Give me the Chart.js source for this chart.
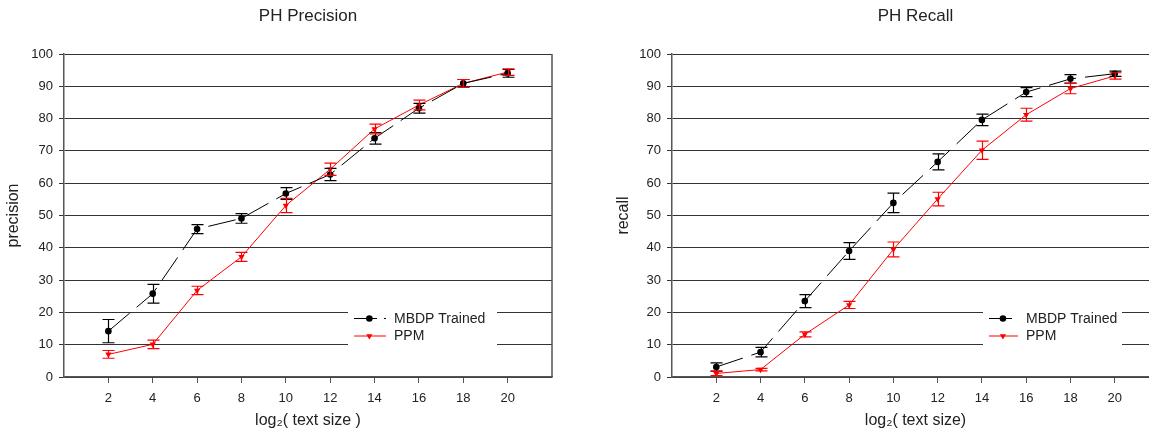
<!DOCTYPE html>
<html>
<head>
<meta charset="utf-8">
<script src="https://cdn.jsdelivr.net/npm/chart.js@4/dist/chart.umd.min.js"></script>
<style>
  html, body { margin: 0; padding: 0; background: #fff; overflow: hidden; width: 1149px; height: 430px; }
  .panel { position: absolute; top: 0; }
  #left-panel { left: 0; }
  #right-panel { left: 600px; }
</style>
</head>
<body>
<div class="panel" id="left-panel"><canvas id="chart-precision" width="600" height="430"></canvas></div>
<div class="panel" id="right-panel"><canvas id="chart-recall" width="570" height="430"></canvas></div>
<script>
// log2(text size)
const xValues = [2, 4, 6, 8, 10, 12, 14, 16, 18, 20];
const xTicks = [2, 4, 6, 8, 10, 12, 14, 16, 18, 20];
const yTicks = [0, 10, 20, 30, 40, 50, 60, 70, 80, 90, 100];

// precision (%), with error bar half-heights
const mbdpPrecision = [14.2, 25.8, 45.8, 49.1, 56.8, 62.7, 73.9, 83.2, 90.9, 94.0];
const mbdpPrecisionErr = [3.6, 2.9, 1.4, 1.5, 1.8, 1.9, 1.8, 1.5, 1.2, 1.2];
const ppmPrecision = [7.0, 10.1, 26.8, 37.2, 53.1, 64.3, 76.8, 84.2, 90.9, 94.4];
const ppmPrecisionErr = [1.2, 1.3, 1.3, 1.4, 2.2, 1.9, 1.5, 1.5, 1.2, 1.0];

// recall (%)
const mbdpRecall = [3.1, 7.7, 23.5, 39.0, 53.9, 66.6, 79.6, 88.2, 92.3, 93.9];
const mbdpRecallErr = [1.3, 1.5, 2.0, 2.6, 3.0, 2.5, 1.8, 1.4, 1.3, 0.8];
const ppmRecall = [1.1, 2.3, 13.2, 22.3, 39.5, 55.1, 70.2, 81.2, 89.3, 93.2];
const ppmRecallErr = [0.7, 0.4, 0.8, 1.1, 2.3, 2.1, 2.8, 2.0, 1.6, 1.0];

const FONT = "'Liberation Sans', Arial, sans-serif";
const TEXT = '#222';
const AXIS = '#555';

function points(ys) {
  return xValues.map((x, i) => ({ x, y: ys[i] }));
}

// vertical error bars with caps, from the dataset's errorBars array
const errorBarPlugin = {
  id: 'errorBars',
  afterDatasetsDraw(chart) {
    const { ctx, scales: { x, y } } = chart;
    chart.data.datasets.forEach((ds) => {
      if (!ds.errorBars) return;
      ctx.save();
      ctx.strokeStyle = ds.borderColor;
      ctx.lineWidth = 1.2;
      ds.data.forEach((p, i) => {
        const err = ds.errorBars[i];
        const px = Math.round(x.getPixelForValue(p.x)) + 0.5;
        const top = y.getPixelForValue(p.y + err);
        const bot = y.getPixelForValue(p.y - err);
        ctx.beginPath();
        ctx.moveTo(px, top); ctx.lineTo(px, bot);
        ctx.moveTo(px - 6, top); ctx.lineTo(px + 6, top);
        ctx.moveTo(px - 6, bot); ctx.lineTo(px + 6, bot);
        ctx.stroke();
      });
      ctx.restore();
    });
  },
};

// right border of the plot frame
const framePlugin = {
  id: 'frame',
  afterDraw(chart) {
    const { ctx, chartArea: a } = chart;
    ctx.save();
    ctx.strokeStyle = AXIS;
    ctx.lineWidth = 1.5;
    ctx.beginPath();
    ctx.moveTo(a.right, a.top);
    ctx.lineTo(a.right, a.bottom);
    ctx.stroke();
    ctx.restore();
  },
};

// legend box sitting inside the plot area
const insetLegendPlugin = {
  id: 'insetLegend',
  afterDraw(chart, _args, opts) {
    const { ctx, chartArea: a } = chart;
    const left = a.left + opts.left;
    const top = a.top + opts.top;
    ctx.save();
    ctx.fillStyle = '#fff';
    ctx.fillRect(left, top, opts.width, opts.height);
    chart.data.datasets.forEach((ds, i) => {
      const cy = top + 6.5 + i * 17.5;
      ctx.strokeStyle = ds.borderColor;
      ctx.lineWidth = 1;
      ctx.setLineDash(ds.borderDash ? [23, 7] : []);
      ctx.beginPath();
      ctx.moveTo(left + 6, cy);
      ctx.lineTo(left + 6 + opts.sample, cy);
      ctx.stroke();
      ctx.setLineDash([]);
      ctx.fillStyle = ds.backgroundColor;
      Chart.helpers.drawPoint(ctx, {
        pointStyle: ds.pointStyle,
        rotation: ds.pointRotation || 0,
        radius: ds.pointRadius,
        borderWidth: 0,
      }, left + 6 + opts.sample * 0.48, cy);
      ctx.fillStyle = TEXT;
      ctx.font = `14px ${FONT}`;
      ctx.textBaseline = 'middle';
      ctx.fillText(ds.label, left + 14 + opts.sample, cy + 0.5);
    });
    ctx.restore();
  },
};

function seriesMbdp(ys, errs) {
  return {
    label: 'MBDP Trained',
    data: points(ys),
    errorBars: errs,
    borderColor: '#000',
    backgroundColor: '#000',
    borderWidth: 1,
    borderDash: [28, 9],
    pointStyle: 'circle',
    pointRadius: 3.3,
    pointBorderWidth: 0,
  };
}

function seriesPpm(ys, errs) {
  return {
    label: 'PPM',
    data: points(ys),
    errorBars: errs,
    borderColor: '#ff0000',
    backgroundColor: '#ff0000',
    borderWidth: 1,
    pointStyle: 'triangle',
    pointRotation: 180,
    pointRadius: 3.6,
    pointBorderWidth: 0,
  };
}

function makeChart(id, cfg) {
  return new Chart(document.getElementById(id), {
    type: 'line',
    data: { datasets: [seriesMbdp(cfg.mbdp, cfg.mbdpErr), seriesPpm(cfg.ppm, cfg.ppmErr)] },
    plugins: [errorBarPlugin, framePlugin, insetLegendPlugin],
    options: {
      responsive: false,
      animation: false,
      devicePixelRatio: 1,
      layout: { padding: { left: 0, right: cfg.padRight, top: 0, bottom: 0 } },
      plugins: {
        legend: { display: false },
        tooltip: { enabled: false },
        title: {
          display: true,
          text: cfg.title,
          fullSize: false,
          color: TEXT,
          font: { family: FONT, size: 17, weight: 'normal', lineHeight: 1.2 },
          padding: { top: 6, bottom: 27.6 },
        },
        insetLegend: cfg.legend,
      },
      scales: {
        x: {
          type: 'linear',
          min: 0,
          max: 22,
          afterBuildTicks: (scale) => { scale.ticks = xTicks.map((value) => ({ value })); },
          afterFit: (scale) => { scale.height = 53; },
          grid: { drawOnChartArea: false, drawTicks: true, tickLength: 6, tickColor: AXIS },
          border: { color: AXIS, width: 1.5 },
          ticks: { color: TEXT, padding: 8, font: { family: FONT, size: 13 } },
          title: {
            display: true,
            text: cfg.xTitle,
            color: TEXT,
            font: { family: FONT, size: 16, lineHeight: 1.2 },
            padding: { top: 0, bottom: 0 },
          },
        },
        y: {
          type: 'linear',
          min: 0,
          max: 100,
          afterBuildTicks: (scale) => { scale.ticks = yTicks.map((value) => ({ value })); },
          afterFit: (scale) => { scale.width = cfg.axisWidth; },
          grid: { color: '#333', lineWidth: 1, tickLength: 5, tickColor: '#333' },
          border: { color: AXIS, width: 1.5 },
          ticks: { color: TEXT, padding: 6, font: { family: FONT, size: 13 } },
          title: {
            display: true,
            text: cfg.yTitle,
            color: TEXT,
            font: { family: FONT, size: 16, lineHeight: 1.2 },
            padding: { top: cfg.yTitlePad, bottom: 0 },
          },
        },
      },
    },
  });
}

makeChart('chart-precision', {
  title: 'PH Precision',
  xTitle: 'log₂( text size )',
  yTitle: 'precision',
  mbdp: mbdpPrecision, mbdpErr: mbdpPrecisionErr,
  ppm: ppmPrecision, ppmErr: ppmPrecisionErr,
  axisWidth: 64,
  padRight: 48,
  yTitlePad: 4,
  legend: { left: 284, top: 258, width: 149, height: 34, sample: 32 },
});

makeChart('chart-recall', {
  title: 'PH Recall',
  xTitle: 'log₂( text size)',
  yTitle: 'recall',
  mbdp: mbdpRecall, mbdpErr: mbdpRecallErr,
  ppm: ppmRecall, ppmErr: ppmRecallErr,
  axisWidth: 72,
  padRight: 11,
  yTitlePad: 14,
  legend: { left: 311, top: 258, width: 139, height: 34, sample: 29 },
});
</script>
</body>
</html>
